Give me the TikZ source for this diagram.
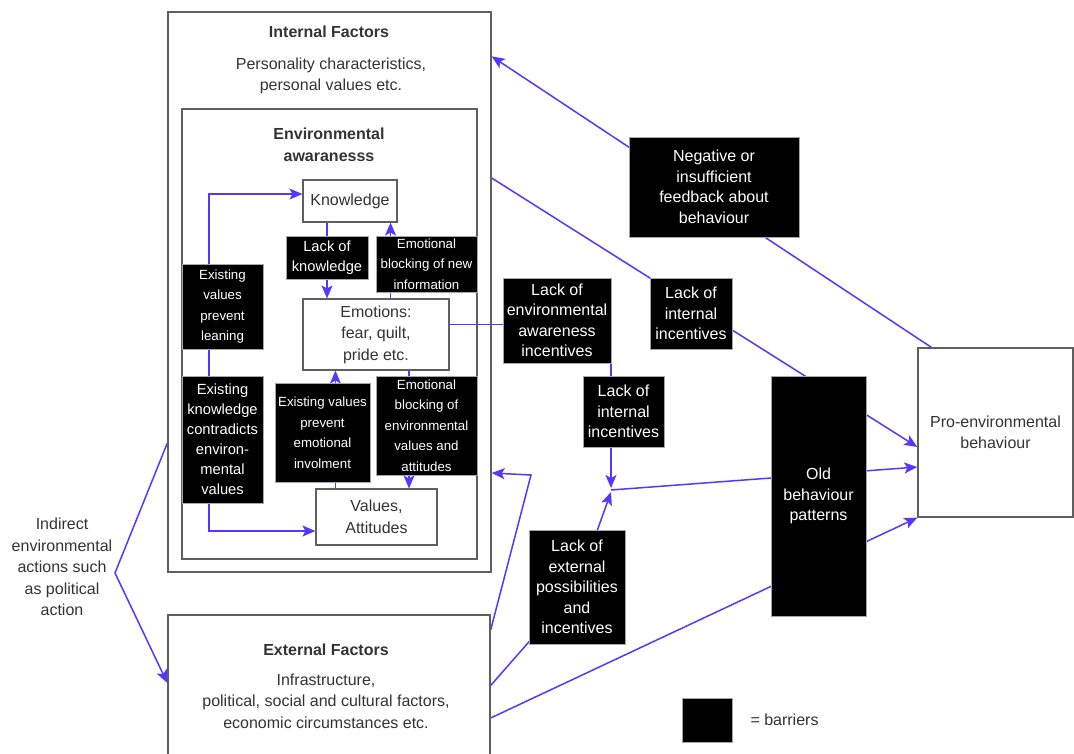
\documentclass[tikz,border=0pt]{standalone}
\usepackage{fontspec}
\setmainfont{Liberation Sans}
\usetikzlibrary{positioning,arrows.meta,backgrounds}
\definecolor{flowblue}{RGB}{85,55,255}
\definecolor{boxgrey}{RGB}{95,95,95}
\definecolor{textgrey}{RGB}{51,51,51}
\tikzstyle{factor}=[draw=boxgrey, line width=1.3pt]
\tikzstyle{concept}=[draw=boxgrey, line width=1.1pt, text=textgrey, align=center, inner sep=0pt, font=\fontsize{16}{21.5}\selectfont]
\tikzstyle{heading}=[text=textgrey, align=center, inner sep=0pt, font=\bfseries\fontsize{16}{22}\selectfont]
\tikzstyle{caption}=[text=textgrey, align=center, inner sep=0pt, font=\fontsize{16}{21.5}\selectfont]
\tikzstyle{barrier}=[draw=gray!70, line width=0.6pt, fill=black, text=white, align=center, inner sep=0pt, font=\fontsize{16}{20.5}\selectfont]
\tikzstyle{smallbarrier}=[barrier, font=\fontsize{13.3}{20.5}\selectfont]
\tikzstyle{midbarrier}=[barrier, font=\fontsize{14.7}{20}\selectfont]
\tikzstyle{influence}=[->, flowblue, line width=1.5pt]

\begin{document}
\begin{tikzpicture}[x=1pt, y=-1pt, >={Stealth[length=13pt,width=11pt,inset=3pt]}]
  \useasboundingbox (0,0) rectangle (1074,753);
  % internal factors
  \node[factor, minimum width=323pt, minimum height=560pt] (internal) at (329.5,292) {};
  \node[heading] (internalt) at (329,32) {Internal Factors};
  \node[caption] (internald) at (331,76) {Personality characteristics,\\personal values etc.};
  \node[factor, minimum width=295pt, minimum height=450pt] (awareness) at (329.5,334) {};
  \node[heading] (awarenesst) at (329,145) {Environmental\\awaranesss};
  \node[concept, minimum width=94pt, minimum height=42pt] (know) at (350,201) {Knowledge};
  \node[concept, minimum width=146pt, minimum height=71pt] (emo) at (376,334.5) {Emotions:\\fear, quilt,\\pride etc.};
  \node[concept, minimum width=121pt, minimum height=56pt] (val) at (376.5,517) {Values,\\Attitudes};
  \node[midbarrier, minimum width=82pt, minimum height=43pt] (lackk) at (327,257.5) {Lack of\\knowledge};
  \node[smallbarrier, minimum width=101pt, minimum height=56pt] (blocknew) at (426.5,264) {Emotional\\blocking of new\\information};
  \node[smallbarrier, minimum width=81pt, minimum height=85pt] (prevlearn) at (222.5,306.5) {Existing\\values\\prevent\\leaning};
  \node[midbarrier, minimum width=81pt, minimum height=127pt] (contra) at (222.5,439.5) {Existing\\knowledge\\contradicts\\environ-\\mental\\values};
  \node[smallbarrier, minimum width=95pt, minimum height=99pt] (prevemo) at (322.5,432.5) {Existing values\\prevent\\emotional\\involment};
  \node[smallbarrier, minimum width=101pt, minimum height=99pt] (blockval) at (426.5,425.5) {Emotional\\blocking of\\environmental\\values and\\attitudes};
  % external factors
  \node[factor, minimum width=322pt, minimum height=145pt] (external) at (329,687.5) {};
  \node[heading] (externalt) at (326,650) {External Factors};
  \node[caption] (externald) at (326,701) {Infrastructure,\\political, social and cultural factors,\\economic circumstances etc.};
  \node[caption] (indirect) at (62,567) {Indirect\\environmental\\actions such\\as political\\action};
  % barriers on the right
  \node[barrier, minimum width=170pt, minimum height=100pt] (feedback) at (714,187) {Negative or\\insufficient\\feedback about\\behaviour};
  \node[barrier, minimum width=82pt, minimum height=71pt] (lackint) at (691,313.5) {Lack of\\internal\\incentives};
  \node[barrier, minimum width=108pt, minimum height=85pt] (lackenv) at (557,320.5) {Lack of\\environmental\\awareness\\incentives};
  \node[barrier, minimum width=81pt, minimum height=71pt] (lackint2) at (623.5,411.5) {Lack of\\internal\\incentives};
  \node[barrier, minimum width=96pt, minimum height=114pt] (lackext) at (577,587) {Lack of\\external\\possibilities\\and\\incentives};
  \node[barrier, minimum width=95pt, minimum height=240pt] (oldbeh) at (818.5,496) {Old\\behaviour\\patterns};
  \node[concept, line width=1.3pt, minimum width=155pt, minimum height=169pt] (proenv) at (995.5,432.5) {Pro-environmental\\behaviour};
  % legend
  \node[barrier, minimum width=50pt, minimum height=44pt] (legendbox) at (707,720) {};
  \node[caption, right=18pt of legendbox] (legendt) {= barriers};
  \coordinate (junc) at (611,490);
  \coordinate (bendext) at (531,475);
  \coordinate (bendind) at (115,573);
  \begin{pgfonlayer}{background}
    \draw[influence, <->] ([yshift=7pt]know.west) -| ([xshift=-13.5pt]contra.south) |- ([yshift=-14pt]val.west);
    \draw[influence] (know.south -| lackk) -- (lackk |- emo.north);
    \draw[influence] ([xshift=-7pt]know.south east |- emo.north) -- ([xshift=-7pt]know.south east);
    \draw[influence] ([xshift=20pt]val.north west) -- ([xshift=20pt]val.north west |- emo.south);
    \draw[influence] ([xshift=33pt]emo.south) -- ([xshift=33pt]emo.south |- val.north);
    \draw[influence] ([yshift=10pt]emo.east) -| ([yshift=2pt]junc);
    \draw[influence] ([yshift=2pt]external.east) -- (lackext.center) -- ([yshift=-2pt]junc);
    \draw[influence] (junc) -- ([yshift=-34.5pt]proenv.west);
    \draw[influence] ([yshift=114pt]internal.east) -- ([yshift=-14.5pt]proenv.west);
    \draw[influence] ([xshift=14pt]proenv.north west) -- ([yshift=-45pt]internal.north east);
    \draw[influence] ([yshift=-30.5pt]external.east) -- (proenv.south west);
    \draw[influence] ([yshift=57.5pt]external.east) -- (bendext) -- ([yshift=-181pt]internal.east);
    \draw[influence] ([yshift=-151pt]internal.west) -- (bendind) -- ([yshift=4.5pt]external.west);
  \end{pgfonlayer}
\end{tikzpicture}
\end{document}
